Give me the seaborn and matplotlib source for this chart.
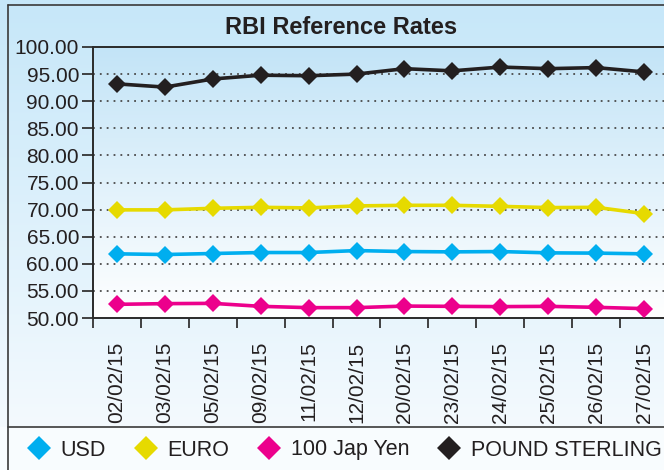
import numpy as np
import pandas as pd
import matplotlib
matplotlib.use("Agg")
import matplotlib.pyplot as plt
from matplotlib.colors import LinearSegmentedColormap
from matplotlib.lines import Line2D
import seaborn as sns

# Data
DATES = ["02/02/15", "03/02/15", "05/02/15", "09/02/15", "11/02/15", "12/02/15",
         "20/02/15", "23/02/15", "24/02/15", "25/02/15", "26/02/15", "27/02/15"]
USD = [61.84, 61.71, 61.90, 62.08, 62.08, 62.44, 62.26, 62.20, 62.26, 62.02, 61.97, 61.84]
EURO = [69.95, 69.95, 70.24, 70.42, 70.31, 70.68, 70.79, 70.79, 70.60, 70.37, 70.42, 69.26]
JPY100 = [52.52, 52.65, 52.70, 52.15, 51.91, 51.91, 52.20, 52.15, 52.10, 52.15, 51.97, 51.73]
GBP = [93.20, 92.60, 94.10, 94.80, 94.70, 95.00, 96.00, 95.60, 96.30, 96.00, 96.20, 95.40]

SERIES = ["USD", "EURO", "100 Jap Yen", "POUND STERLING"]
COLORS = ["#00aeef", "#e6da00", "#ec008c", "#231f20"]
TEXT = "#231f20"

sns.set_style("ticks")
plt.rcParams["font.family"] = ["Liberation Sans", "DejaVu Sans"]

rows = []
for name, vals in zip(SERIES, [USD, EURO, JPY100, GBP]):
    for i, v in enumerate(vals):
        rows.append({"idx": i, "rate": v, "currency": name})
df = pd.DataFrame(rows)

W, H = 664, 470
fig = plt.figure(figsize=(W / 100, H / 100), dpi=100)

# figure background gradient
bg = fig.add_axes([0, 0, 1, 1], zorder=-5)
bg.set_axis_off()
bg_cmap = LinearSegmentedColormap.from_list("bg", ["#c6e7f9", "#f4fafe"])
grad = np.linspace(0, 1, 256).reshape(-1, 1)
bg.imshow(grad, cmap=bg_cmap, aspect="auto", extent=[0, W, 427, 0])
bg.fill_between([0, W], 427, H, color="#f8fcfe")
bg.set_xlim(0, W)
bg.set_ylim(H, 0)
bg.plot([8, 8], [5, H], color="#3a3a3a", lw=1.2)
bg.plot([8, W], [5, 5], color="#3a3a3a", lw=1.2)
bg.plot([8, W], [427, 427], color="#3a3a3a", lw=1.2)

ax = fig.add_axes([93 / W, 1 - 318 / H, 575 / W, (318 - 47) / H])
ax.set_xlim(-0.5, 11.5)
ax.set_ylim(50, 100)

# plot area gradient
pa_cmap = LinearSegmentedColormap.from_list("pa", ["#ffffff", "#c3e4f7"])
ax.imshow(grad, cmap=pa_cmap, aspect="auto", extent=[-0.5, 11.5, 100, 50], zorder=0)

for y in range(55, 100, 5):
    ax.axhline(y, color="#4a4a4a", lw=1.3, ls=(0, (1, 2.8)), zorder=1)

sns.lineplot(data=df, x="idx", y="rate", hue="currency", hue_order=SERIES,
             palette=COLORS, marker="D", markersize=9.5, markeredgewidth=0,
             linewidth=2.6, legend=False, ax=ax, zorder=3)

ax.set_xticks(range(len(DATES)))
ax.set_xticklabels(DATES, rotation=90, fontsize=15, color=TEXT)
ax.set_xticks(np.arange(-0.5, 12, 1), minor=True)
ax.tick_params(axis="x", which="major", length=0, pad=17)
ax.tick_params(axis="x", which="minor", length=7, width=1.3, color="#333333")
ax.set_yticks(range(50, 101, 5))
ax.set_yticklabels([f"{v:.2f}" for v in range(50, 101, 5)], fontsize=15, color=TEXT)
ax.tick_params(axis="y", length=8, width=1.3, color="#333333", pad=2)
ax.set_xlabel("")
ax.set_ylabel("")
for s in ["left", "bottom", "top"]:
    ax.spines[s].set_color("#2a2a2a")
    ax.spines[s].set_linewidth(1.4)
ax.spines["right"].set_visible(False)

fig.text(341 / W, 1 - 28 / H, "RBI Reference Rates", ha="center", va="center",
         fontsize=17, fontweight="bold", color=TEXT)

handles = [Line2D([], [], ls="none", marker="D", markersize=12, color=c,
                  markeredgewidth=0) for c in COLORS]
fig.legend(handles, SERIES, loc="center", bbox_to_anchor=(346 / W, 1 - 450 / H),
           ncol=4, frameon=False, fontsize=15.5, handlelength=0.8,
           handletextpad=0.6, columnspacing=1.45, labelcolor=TEXT)

fig.savefig("out.png", dpi=100)
